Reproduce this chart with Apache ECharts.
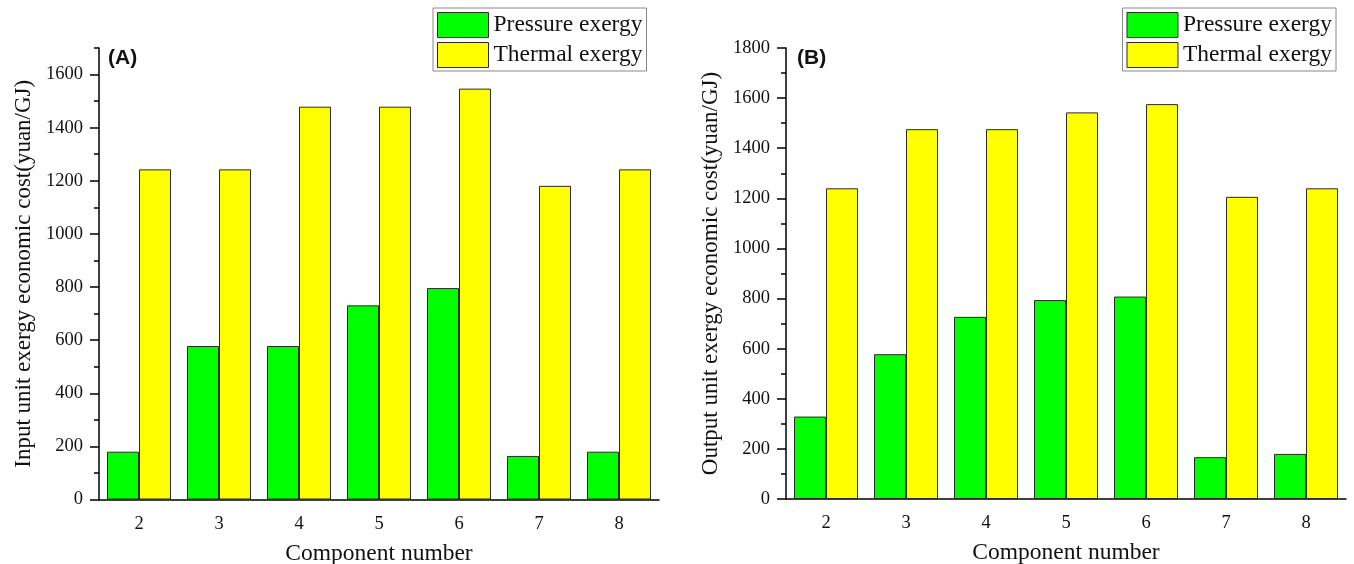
<!DOCTYPE html>
<html><head><meta charset="utf-8">
<script src="https://cdn.jsdelivr.net/npm/echarts@6/dist/echarts.min.js"></script>
<style>html,body{margin:0;padding:0;background:#fff}#c{width:1354px;height:564px}</style>
</head><body><div id="c"></div>
<script>
const categories = ['2','3','4','5','6','7','8'];
const inputPressure = [180, 578, 578, 731, 796, 164, 180];
const inputThermal  = [1243, 1243, 1479, 1479, 1547, 1181, 1243];
const outputPressure = [329, 578, 727, 794, 808, 167, 180];
const outputThermal  = [1240, 1476, 1476, 1543, 1576, 1206, 1240];
const ticksA = [0,200,400,600,800,1000,1200,1400,1600];
const minorA = [100,300,500,700,900,1100,1300,1500,1700];
const ticksB = [0,200,400,600,800,1000,1200,1400,1600,1800];
const minorB = [100,300,500,700,900,1100,1300,1500,1700];

const serif = 'Liberation Serif';
const GREEN = '#00ff00', YELLOW = '#ffff00', BORDER = '#2a2a2a';

function xAxes(gi){
  return [{
    type:'category', gridIndex:gi, data:categories,
    axisLine:{lineStyle:{color:'#000',width:1.5}},
    axisTick:{alignWithLabel:true,length:9,lineStyle:{color:'#000',width:1.5}},
    axisLabel:{color:'#111',fontFamily:serif,fontSize:18.5,margin:15},
    name:'Component number', nameLocation:'middle', nameGap:42,
    nameTextStyle:{color:'#111',fontFamily:serif,fontSize:23.5}
  },{
    type:'category', gridIndex:gi, data:categories,
    axisLine:{show:false},
    axisTick:{length:5,lineStyle:{color:'#000',width:1.5}},
    axisLabel:{show:false}
  }];
}
function yAxes(gi,max,major,minor,name){
  return [{
    type:'value', gridIndex:gi, min:0, max:max,
    axisLine:{show:true,lineStyle:{color:'#000',width:1.5}},
    axisTick:{show:true,length:9,customValues:major,lineStyle:{color:'#000',width:1.5}},
    axisLabel:{customValues:major,formatter:v=>String(v),color:'#111',fontFamily:serif,fontSize:18.5,margin:16},
    splitLine:{show:false},
    name:name, nameLocation:'middle', nameGap:64,
    nameTextStyle:{color:'#111',fontFamily:serif,fontSize:23}
  },{
    type:'value', gridIndex:gi, min:0, max:max, position:'left',
    axisLine:{show:false},
    axisTick:{show:true,length:5,customValues:minor,lineStyle:{color:'#000',width:1.5}},
    axisLabel:{show:false}, splitLine:{show:false}
  }];
}
function bars(name,data,color,xi,yi){
  return {type:'bar',name:name,data:data,xAxisIndex:xi,yAxisIndex:yi,
    barGap:'0%',barCategoryGap:'20%',
    itemStyle:{color:color,borderColor:BORDER,borderWidth:1}};
}
function legend(pos){
  return Object.assign({
    top:8, orient:'vertical', itemWidth:51, itemHeight:25, itemGap:4,
    padding:[4,4,3,4], borderColor:'#888', borderWidth:1, backgroundColor:'#fff',
    icon:'rect',
    itemStyle:{borderColor:BORDER,borderWidth:1},
    textStyle:{fontFamily:serif,fontSize:23.5,color:'#111',padding:[0,0,0,0]},
    data:['Pressure exergy','Thermal exergy'], selectedMode:false
  },pos);
}

const chart = echarts.init(document.getElementById('c'),null,{renderer:'canvas'});
chart.setOption({
  animation:false,
  backgroundColor:'#fff',
  title:[
    {text:'(A)',left:108,top:48,padding:0,textStyle:{fontFamily:'Liberation Sans',fontWeight:'bold',fontSize:21,color:'#111'}},
    {text:'(B)',left:797,top:48,padding:0,textStyle:{fontFamily:'Liberation Sans',fontWeight:'bold',fontSize:21,color:'#111'}}
  ],
  legend:[legend({left:433}), legend({right:18})],
  grid:[
    {left:99,width:560,top:48,height:451.5,outerBoundsMode:'none',containLabel:false},
    {left:786,width:560,top:48,height:451,outerBoundsMode:'none',containLabel:false}
  ],
  xAxis:[...xAxes(0),...xAxes(1)],
  yAxis:[...yAxes(0,1700,ticksA,minorA,'Input unit exergy economic cost(yuan/GJ)'),
         ...yAxes(1,1800,ticksB,minorB,'Output unit exergy economic cost(yuan/GJ)')],
  series:[
    bars('Pressure exergy',inputPressure,GREEN,0,0),
    bars('Thermal exergy',inputThermal,YELLOW,0,0),
    bars('Pressure exergy',outputPressure,GREEN,2,2),
    bars('Thermal exergy',outputThermal,YELLOW,2,2)
  ]
});
</script></body></html>
